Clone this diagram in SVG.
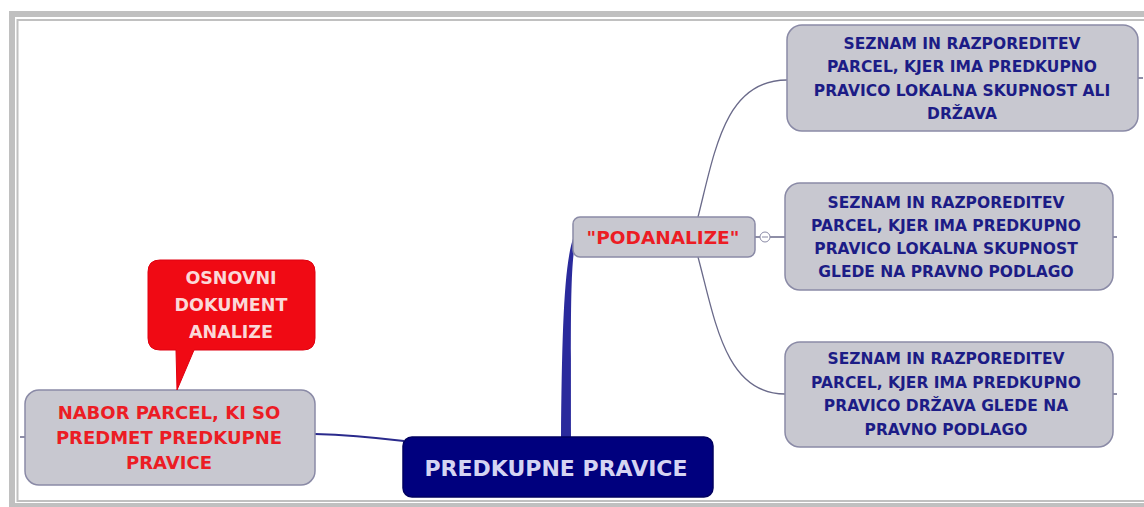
<svg xmlns="http://www.w3.org/2000/svg" width="1144" height="507" viewBox="0 0 1144 507">
<style>
.node{fill:#c8c8d0;stroke:#8a8aa6;stroke-width:1.5}
.t{font-family:"DejaVu Sans","Liberation Sans",sans-serif;font-weight:bold;text-anchor:middle}
.blue{fill:#1c1c86;font-size:15.5px}
.red{fill:#ec1c24}
.conn{fill:none;stroke:#6a6a8a;stroke-width:1.3}
</style>
<rect width="1144" height="507" fill="#ffffff"/>
<g id="frame" fill="none" stroke="#c0c0c0">
<rect x="12" y="14" width="1200" height="492" stroke-width="6"/>
<rect x="17.5" y="20" width="1200" height="481" stroke-width="2"/>
</g>
<g id="connectors">
<path d="M561 438 C562 330 564 262 574 236 L575 244 C570 272 571 330 571 438 Z" fill="#2a2a9c"/>
<path d="M315 434 C350 435 370 437 404 441" fill="none" stroke="#2a2a8c" stroke-width="2"/>
<path class="conn" d="M698 217 C715 150 725 80 787 80"/>
<path class="conn" d="M698 257 C715 320 725 394 785 394"/>
<path class="conn" d="M755 237 H760 M770 237 H785"/>
<circle cx="765" cy="237" r="5" fill="#ffffff" stroke="#8a8aa6" stroke-width="1"/>
<path d="M762 237 H768" stroke="#8a8aa6" stroke-width="1"/>
<path class="conn" d="M20 437 H25 M1138 78 H1143 M1113 237 H1117 M1113 394 H1117" stroke-width="1"/>
</g>
<g id="node-top">
<rect class="node" x="787" y="25" width="351" height="106" rx="15"/>
<text class="t blue" x="962" y="49">SEZNAM IN RAZPOREDITEV</text>
<text class="t blue" x="962" y="72">PARCEL, KJER IMA PREDKUPNO</text>
<text class="t blue" x="962" y="96">PRAVICO LOKALNA SKUPNOST ALI</text>
<text class="t blue" x="962" y="119">DRŽAVA</text>
</g>
<g id="node-mid">
<rect class="node" x="785" y="183" width="328" height="107" rx="15"/>
<text class="t blue" x="946" y="208">SEZNAM IN RAZPOREDITEV</text>
<text class="t blue" x="946" y="231">PARCEL, KJER IMA PREDKUPNO</text>
<text class="t blue" x="946" y="254">PRAVICO LOKALNA SKUPNOST</text>
<text class="t blue" x="946" y="277">GLEDE NA PRAVNO PODLAGO</text>
</g>
<g id="node-bot">
<rect class="node" x="785" y="342" width="328" height="105" rx="15"/>
<text class="t blue" x="946" y="364">SEZNAM IN RAZPOREDITEV</text>
<text class="t blue" x="946" y="388">PARCEL, KJER IMA PREDKUPNO</text>
<text class="t blue" x="946" y="411">PRAVICO DRŽAVA GLEDE NA</text>
<text class="t blue" x="946" y="435">PRAVNO PODLAGO</text>
</g>
<g id="node-podanalize">
<rect class="node" x="573" y="217" width="182" height="40" rx="7"/>
<text class="t red" x="663" y="244" font-size="18.5">"PODANALIZE"</text>
</g>
<g id="node-nabor">
<rect class="node" x="25" y="390" width="290" height="95" rx="14"/>
<text class="t red" x="169" y="419" font-size="18">NABOR PARCEL, KI SO</text>
<text class="t red" x="169" y="444" font-size="18">PREDMET PREDKUPNE</text>
<text class="t red" x="169" y="469" font-size="18">PRAVICE</text>
</g>
<g id="node-main">
<rect x="403" y="437" width="310" height="60" rx="9" fill="#00007e" stroke="#000060" stroke-width="1.5"/>
<text class="t" x="556" y="476" font-size="22" fill="#d4d4f2">PREDKUPNE PRAVICE</text>
</g>
<g id="callout">
<path d="M160 260 H303 Q315 260 315 272 V338 Q315 350 303 350 H194 L177 390 L176 350 H160 Q148 350 148 338 V272 Q148 260 160 260 Z" fill="#f00a14" stroke="#e00010" stroke-width="1"/>
<text class="t" x="231" y="284" font-size="17.5" fill="#fbd8d8">OSNOVNI</text>
<text class="t" x="231" y="311" font-size="17.5" fill="#fbd8d8">DOKUMENT</text>
<text class="t" x="231" y="338" font-size="17.5" fill="#fbd8d8">ANALIZE</text>
</g>
</svg>
